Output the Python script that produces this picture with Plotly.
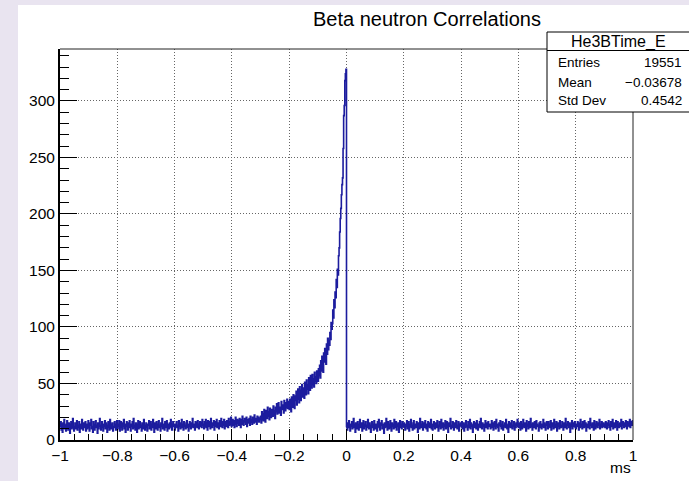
import numpy as np
import plotly.graph_objects as go

# ---------------- data ----------------
title_text = "Beta neutron Correlations"
hist_name = "He3BTime_E"
stats_labels = ["Entries", "Mean", "Std Dev"]
stats_values = ["19551", "\u22120.03678", "0.4542"]
x_range = [-1.0, 1.0]
x_tick_vals = [-1, -0.8, -0.6, -0.4, -0.2, 0, 0.2, 0.4, 0.6, 0.8, 1]
x_tick_text = ["\u22121", "\u22120.8", "\u22120.6", "\u22120.4", "\u22120.2", "0", "0.2", "0.4", "0.6", "0.8", "1"]
y_tick_vals = [0, 50, 100, 150, 200, 250, 300]
y_tick_text = ["0", "50", "100", "150", "200", "250", "300"]
x_title = "ms"

# counts for bins from -1 to 0
bg_left = [
    12, 16, 9, 14, 7, 15, 11, 18, 10, 13, 8, 14, 17, 11, 9, 15, 12, 6, 14, 16, 10, 13, 19, 11, 8, 12, 15, 10, 14, 17, 9, 13, 11, 16, 7, 12, 14, 10, 18, 13, 9, 15, 11, 12, 16, 8, 14, 10, 13, 17,
    11, 8, 15, 13, 18, 10, 12, 7, 16, 14, 9, 12, 17, 11, 13, 6, 15, 10, 14, 19, 12, 9, 13, 16, 11, 8, 14, 12, 17, 10, 15, 13, 7, 11, 16, 12, 9, 18, 14, 10, 13, 15, 8, 12, 11, 16, 14, 9, 13, 17,
    10, 14, 12, 17, 8, 13, 16, 11, 9, 15, 12, 18, 10, 14, 7, 13, 16, 12, 9, 15, 11, 17, 13, 8, 14, 12, 16, 10, 19, 11, 13, 9, 15, 12, 7, 14, 17, 10, 12, 16, 11, 13, 8, 15, 14, 10, 18, 12, 9, 13,
    15, 11, 8, 14, 13, 17, 10, 12, 16, 9, 14, 11, 18, 12, 7, 15, 13, 10, 16, 14, 9, 12, 17, 11, 13, 8, 15, 12, 19, 10, 14, 13, 9, 16, 11, 12, 17, 8, 14, 13, 10, 15, 12, 18, 11, 9, 14, 16, 12, 13,
    9, 14, 12, 16, 11, 13, 8, 17, 12, 15, 10, 13, 18, 11, 14, 9, 16, 12, 13, 10, 15, 17, 11, 14, 8, 12, 16, 13, 10, 15, 12, 19, 11, 14, 13, 9, 16, 12, 15, 11, 17, 13, 10, 14, 16, 12, 15, 11, 18, 13,
]
slope_b = [
    14, 10, 16, 12, 18, 11, 15, 9, 17, 13, 12, 16, 10, 19, 14, 11, 15, 13, 17, 9, 16, 12, 14, 18, 11, 15, 13, 10, 17, 14, 12, 19, 15, 11, 16, 13, 18, 10, 14, 16, 12, 17, 15, 11, 19, 13, 16, 14, 20, 12,
    15, 18, 13, 17, 11, 16, 20, 14, 12, 18, 15, 17, 13, 19, 16, 11, 18, 14, 21, 15, 13, 17, 19, 16, 14, 20, 12, 18, 17, 15, 19, 13, 21, 16, 18, 14, 20, 17, 15, 22, 16, 19, 18, 14, 21, 17, 20, 16, 19, 18,
]
slope_c = [
    21, 15, 25, 18, 23, 17, 27, 20, 16, 26, 22, 19, 29, 21, 25, 18, 28, 23, 20, 27, 24, 21, 30, 22, 26,
    19, 29, 25, 32, 23, 27, 33, 24, 29, 26, 22, 34, 27, 31, 28, 24, 35, 30, 26, 33, 29, 36, 28, 34, 31,
]
slope_d = [
    27, 36, 31, 25, 38, 33, 29, 40, 34, 28, 39, 35, 43, 31, 37, 45, 36, 33, 47, 39, 35, 44, 49, 38, 42,
    46, 37, 51, 43, 40, 53, 45, 49, 41, 55, 47, 44, 57, 50, 46, 58, 49, 54, 47, 60, 52, 56, 50, 61, 55,
]
slope_e = [52, 63, 57, 66, 55, 70, 61, 74, 65, 60, 77, 69, 81, 72, 67, 85, 76, 90, 80, 88, 84, 95, 89, 104, 98]
slope_f = [103, 115, 108, 124, 117, 131, 126, 142, 135, 151, 146, 163, 170, 184, 196]
peak_g = [205, 217, 226, 232, 258, 287, 296, 318, 324, 328]

# counts for bins from 0 to 1
bg_right = [
    12, 9, 15, 11, 17, 13, 8, 14, 12, 16, 10, 13, 19, 11, 14, 7, 15, 12, 10, 16, 13, 9, 14, 18, 11, 12, 15, 8, 13, 17, 10, 14, 12, 16, 9, 13, 11, 18, 14, 10, 15, 12, 7, 13, 16, 11, 14, 9, 17, 12,
    10, 14, 13, 8, 16, 12, 18, 11, 9, 15, 13, 17, 10, 14, 12, 6, 15, 11, 13, 19, 12, 9, 16, 14, 10, 13, 17, 11, 8, 15, 12, 14, 10, 18, 13, 11, 16, 9, 14, 12, 15, 7, 13, 17, 11, 14, 10, 16, 12, 13,
    15, 11, 9, 14, 12, 17, 10, 13, 16, 8, 14, 12, 18, 11, 13, 9, 15, 17, 10, 12, 14, 11, 16, 13, 7, 15, 12, 10, 19, 14, 11, 13, 16, 9, 12, 15, 11, 17, 13, 10, 14, 8, 16, 12, 15, 11, 13, 18, 10, 14,
    9, 13, 16, 12, 10, 15, 14, 11, 17, 13, 8, 12, 16, 14, 10, 18, 11, 13, 15, 9, 14, 12, 17, 10, 13, 16, 11, 7, 15, 12, 14, 19, 10, 13, 11, 16, 12, 9, 15, 14, 11, 17, 13, 10, 12, 16, 8, 14, 13, 15,
    12, 16, 10, 13, 15, 8, 14, 11, 17, 12, 13, 9, 16, 14, 11, 18, 10, 15, 12, 13, 7, 14, 16, 11, 12, 15, 10, 17, 13, 9, 14, 12, 16, 11, 19, 13, 10, 15, 12, 14, 8, 13, 17, 11, 15, 12, 10, 16, 14, 12,
    14, 10, 13, 17, 11, 15, 9, 12, 16, 13, 10, 18, 12, 14, 11, 8, 15, 13, 17, 12, 10, 14, 16, 9, 13, 12, 15, 11, 18, 14, 10, 13, 7, 16, 12, 15, 11, 14, 17, 10, 13, 12, 16, 9, 14, 11, 15, 13, 18, 12,
    11, 15, 12, 9, 16, 13, 10, 14, 18, 12, 11, 15, 13, 8, 17, 12, 14, 10, 16, 13, 11, 19, 12, 14, 9, 15, 13, 11, 16, 12, 10, 17, 14, 12, 13, 8, 15, 11, 16, 13, 10, 14, 12, 18, 11, 15, 13, 9, 14, 16,
    13, 10, 16, 12, 14, 11, 17, 9, 13, 15, 12, 10, 18, 14, 11, 13, 16, 8, 12, 15, 14, 10, 17, 13, 11, 12, 16, 14, 9, 15, 13, 11, 19, 12, 10, 14, 16, 13, 11, 15, 7, 12, 14, 17, 10, 13, 15, 12, 16, 11,
    10, 14, 12, 16, 13, 9, 15, 11, 18, 12, 14, 10, 16, 13, 11, 17, 12, 15, 8, 14, 13, 11, 16, 12, 10, 19, 13, 14, 11, 15, 12, 9, 17, 13, 10, 14, 16, 12, 11, 15, 13, 18, 10, 14, 12, 16, 11, 13, 15, 12,
    14, 11, 16, 12, 10, 15, 13, 17, 11, 14, 9, 16, 12, 13, 18, 10, 14, 15, 11, 13, 17, 12, 9, 16, 14, 11, 13, 15, 12, 18, 10, 14, 16, 13, 11, 15, 12, 17, 14, 10, 16, 13, 15, 12, 18, 11, 14, 16, 13, 17,
]

# ---------------- figure ----------------
neg_counts = bg_left + slope_b + slope_c + slope_d + slope_e + slope_f + peak_g
pos_counts = bg_right
edges_neg = np.linspace(x_range[0], 0.0, len(neg_counts) + 1)[:-1]
edges_pos = np.linspace(0.0, x_range[1], len(pos_counts) + 1)
xs = list(edges_neg) + list(edges_pos)
ys = neg_counts + pos_counts + [pos_counts[-1]]

W, H = 689, 481
L, R, T, B = 60, 56, 49, 41
pw, ph = W - L - R, H - T - B


def px(xp):
    return (xp - L) / pw


def py(yp):
    return (H - B - yp) / ph


FONT = "Liberation Sans, Arial, Helvetica, sans-serif"
LAV = "#e9e4f0"

fig = go.Figure()
fig.add_trace(go.Scatter(
    x=xs, y=ys, mode="lines", line=dict(color="#1c1c9e", width=1.6, shape="hv"),
    showlegend=False, hoverinfo="skip"))

shapes = [
    # lavender canvas border
    dict(type="rect", xref="paper", yref="paper", x0=px(0), x1=px(18), y0=py(H), y1=py(0),
         fillcolor=LAV, line=dict(width=0), layer="below"),
    dict(type="rect", xref="paper", yref="paper", x0=px(0), x1=px(W), y0=py(5), y1=py(0),
         fillcolor=LAV, line=dict(width=0), layer="below"),
    # top and right frame
    dict(type="line", xref="paper", yref="paper", x0=0, x1=1, y0=1, y1=1,
         line=dict(color="#222222", width=1), layer="above"),
    dict(type="line", xref="paper", yref="paper", x0=1, x1=1, y0=0, y1=1,
         line=dict(color="#222222", width=1), layer="above"),
    # stats box
    dict(type="rect", xref="paper", yref="paper", x0=px(547), x1=px(692), y0=py(112), y1=py(32),
         fillcolor="white", line=dict(color="black", width=1), layer="above"),
    dict(type="line", xref="paper", yref="paper", x0=px(547), x1=px(692), y0=py(50.5), y1=py(50.5),
         line=dict(color="black", width=1), layer="above"),
]

annotations = [
    dict(text=title_text, xref="paper", yref="paper", x=px(427), y=py(19), xanchor="center", yanchor="middle",
         showarrow=False, font=dict(family=FONT, size=20, color="black")),
    dict(text=hist_name, xref="paper", yref="paper", x=px(618), y=py(41.5), xanchor="center", yanchor="middle",
         showarrow=False, font=dict(family=FONT, size=16, color="black")),
    dict(text=x_title, xref="paper", yref="paper", x=px(633), y=py(467), xanchor="right", yanchor="middle",
         showarrow=False, font=dict(family=FONT, size=15.5, color="black")),
]
row_y = [62, 82, 101]
for lab, val, ry in zip(stats_labels, stats_values, row_y):
    annotations.append(dict(text=lab, xref="paper", yref="paper", x=px(556), y=py(ry), xanchor="left",
                            yanchor="middle", showarrow=False, font=dict(family=FONT, size=13.5, color="black")))
    annotations.append(dict(text=val, xref="paper", yref="paper", x=px(684), y=py(ry), xanchor="right",
                            yanchor="middle", showarrow=False, font=dict(family=FONT, size=13.5, color="black")))

fig.update_layout(
    width=W, height=H, margin=dict(l=L, r=R, t=T, b=B, pad=0),
    paper_bgcolor="white", plot_bgcolor="white",
    shapes=shapes, annotations=annotations, showlegend=False,
    font=dict(family=FONT, size=15.5, color="black"),
)
fig.update_xaxes(
    range=x_range, tickvals=x_tick_vals, ticktext=x_tick_text,
    showline=True, linecolor="black", linewidth=2, mirror=False,
    ticks="inside", ticklen=11, tickwidth=1, tickcolor="black",
    showgrid=True, gridcolor="#666666", gridwidth=1, griddash="1px,2px",
    zeroline=False, tickfont=dict(family=FONT, size=15.5, color="black"),
    minor=dict(ticks="inside", ticklen=6, tickwidth=1, tickcolor="black", dtick=0.05, tick0=-1, showgrid=False),
)
fig.update_yaxes(
    range=[0, 346], tickvals=y_tick_vals, ticktext=y_tick_text,
    showline=True, linecolor="black", linewidth=2, mirror=False,
    ticks="inside", ticklen=17, tickwidth=1, tickcolor="black",
    showgrid=True, gridcolor="#666666", gridwidth=1, griddash="1px,2px",
    zeroline=False, tickfont=dict(family=FONT, size=15.5, color="black"),
    minor=dict(ticks="inside", ticklen=9, tickwidth=1, tickcolor="black", dtick=10, tick0=0, showgrid=False),
)

fig.write_html("out.html")
